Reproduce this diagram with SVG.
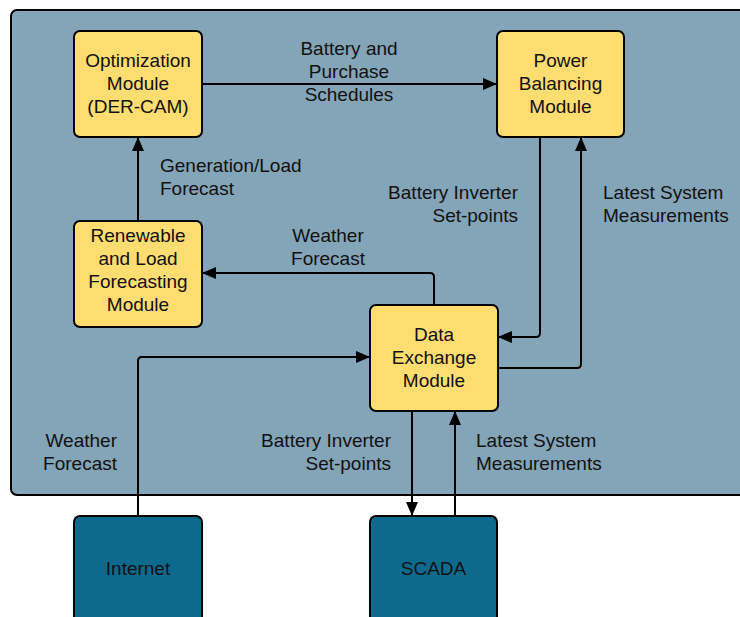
<svg xmlns="http://www.w3.org/2000/svg" width="740" height="617" viewBox="0 0 740 617">
<style>
.panel{fill:#84a4b8;stroke:#000;stroke-width:2}
.mod{fill:#ffdd71;stroke:#000;stroke-width:2}
.ext{fill:#0d6a8d;stroke:#000;stroke-width:2}
text{font-family:"Liberation Sans",Arial,sans-serif;font-size:19px;fill:#111}
.c{text-anchor:middle}
.r{text-anchor:end}
.conn path{fill:none;stroke:#000;stroke-width:2}
</style>
<defs>
<marker id="ah" markerUnits="userSpaceOnUse" markerWidth="15" markerHeight="13" refX="14" refY="6.5" orient="auto">
<path d="M0,0.5 L14,6.5 L0,12.5 z" fill="#000"/>
</marker>
</defs>
<rect class="panel" x="11" y="10" width="740" height="485" rx="6"/>
<g class="conn">
<path d="M202 84 H497" marker-end="url(#ah)"/>
<path d="M138 221 V137" marker-end="url(#ah)"/>
<path d="M540 137 V333 Q540 337 536 337 H498" marker-end="url(#ah)"/>
<path d="M498 368 H577 Q581 368 581 364 V137" marker-end="url(#ah)"/>
<path d="M434 305 V277 Q434 273 430 273 H202" marker-end="url(#ah)"/>
<path d="M138 516 V361 Q138 357 142 357 H370" marker-end="url(#ah)"/>
<path d="M412 411 V516" marker-end="url(#ah)"/>
<path d="M455 516 V411" marker-end="url(#ah)"/>
</g>
<g id="labels">
<text class="c" x="349" y="55">Battery and</text>
<text class="c" x="349" y="78">Purchase</text>
<text class="c" x="349" y="101">Schedules</text>
<text x="160" y="172">Generation/Load</text>
<text x="160" y="195">Forecast</text>
<text class="r" x="518" y="199">Battery Inverter</text>
<text class="r" x="518" y="222">Set-points</text>
<text x="603" y="199">Latest System</text>
<text x="603" y="222">Measurements</text>
<text class="c" x="328" y="242">Weather</text>
<text class="c" x="328" y="265">Forecast</text>
<text class="r" x="117" y="447">Weather</text>
<text class="r" x="117" y="470">Forecast</text>
<text class="r" x="391" y="447">Battery Inverter</text>
<text class="r" x="391" y="470">Set-points</text>
<text x="476" y="447">Latest System</text>
<text x="476" y="470">Measurements</text>
</g>
<g id="optimization">
<rect class="mod" x="74" y="31" width="128" height="106" rx="6"/>
<text class="c" x="138" y="67">Optimization</text>
<text class="c" x="138" y="90">Module</text>
<text class="c" x="138" y="113">(DER-CAM)</text>
</g>
<g id="power">
<rect class="mod" x="497" y="31" width="127" height="106" rx="6"/>
<text class="c" x="560.5" y="67">Power</text>
<text class="c" x="560.5" y="90">Balancing</text>
<text class="c" x="560.5" y="113">Module</text>
</g>
<g id="forecasting">
<rect class="mod" x="74" y="221" width="128" height="106" rx="6"/>
<text class="c" x="138" y="242">Renewable</text>
<text class="c" x="138" y="265">and Load</text>
<text class="c" x="138" y="288">Forecasting</text>
<text class="c" x="138" y="311">Module</text>
</g>
<g id="dataexchange">
<rect class="mod" x="370" y="305" width="128" height="106" rx="6"/>
<text class="c" x="434" y="341">Data</text>
<text class="c" x="434" y="364">Exchange</text>
<text class="c" x="434" y="387">Module</text>
</g>
<g id="internet">
<rect class="ext" x="74" y="516" width="128" height="120" rx="6"/>
<text class="c" x="138" y="575">Internet</text>
</g>
<g id="scada">
<rect class="ext" x="370" y="516" width="127" height="120" rx="6"/>
<text class="c" x="433.5" y="575">SCADA</text>
</g>
</svg>
